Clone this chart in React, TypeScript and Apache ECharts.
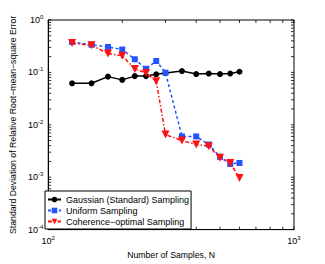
import React, { useEffect, useRef } from "react";
import * as echarts from "echarts";

const samples = [125, 150, 175, 200, 225, 250, 275, 300, 350, 400, 450, 500, 550, 600];
const gaussian = [0.062, 0.062, 0.083, 0.072, 0.085, 0.085, 0.092, 0.097, 0.106, 0.093, 0.095, 0.093, 0.095, 0.103];
const uniform = [0.38, 0.338, 0.306, 0.273, 0.178, 0.117, 0.165, 0.099, 0.006, 0.006, 0.0042, 0.00245, 0.00179, 0.00187];
const coherence = [0.363, 0.328, 0.23, 0.208, 0.116, 0.0975, 0.068, 0.0065, 0.005, 0.0042, 0.0039, 0.00235, 0.00187, 0.00097];
const seriesNames = ["Gaussian (Standard) Sampling", "Uniform Sampling", "Coherence\u2212optimal Sampling"];
const xMin = 100;
const xMax = 1000;
const yMin = 1e-4;
const yMax = 1;
const xTickValues = [100, 200, 300, 400, 500, 600, 700, 800, 900, 1000];
const yDecades = [1e-4, 1e-3, 1e-2, 1e-1];
const yMultiples = [1, 2, 3, 4, 5, 6, 7, 8, 9];

const FONT = "'Liberation Sans', Arial, Helvetica, sans-serif";

function expLabel(v: number) {
  const e = Math.round(Math.log10(v));
  return "{b|10}{s|" + e + "}";
}

export default function App() {
  const ref = useRef<HTMLDivElement>(null);
  useEffect(() => {
    if (!ref.current) return;
    const chart = echarts.init(ref.current, null, { renderer: "svg" });
    const tickData: number[][] = [];
    xTickValues.forEach((x) => tickData.push([x, 0.01, 0]));
    yDecades.forEach((d) => yMultiples.forEach((m) => tickData.push([150, d * m, 1])));
    tickData.push([150, 1, 1]);
    const L = 3;
    const rich = {
      b: { fontSize: 9, fontFamily: FONT, color: "#000" },
      s: { fontSize: 6, fontFamily: FONT, color: "#000", padding: [0, 0, 6, 0] },
    };
    chart.setOption({
      animation: false,
      backgroundColor: "#fff",
      textStyle: { fontFamily: FONT },
      grid: { left: 43, right: 31, top: 20, bottom: 30, show: true, borderColor: "#000", borderWidth: 1, backgroundColor: "#fff" },
      legend: {
        data: seriesNames,
        orient: "vertical",
        left: 45,
        top: 191,
        padding: [4, 2, 3, 2],
        itemGap: 2,
        itemWidth: 13,
        itemHeight: 7,
        borderColor: "#000",
        borderWidth: 1,
        borderRadius: 0,
        backgroundColor: "#fff",
        textStyle: { fontSize: 9, fontFamily: FONT, color: "#000" },
      },
      xAxis: {
        type: "log",
        logBase: 10,
        min: xMin,
        max: xMax,
        name: "Number of Samples, N",
        nameLocation: "middle",
        nameGap: 13,
        nameTextStyle: { fontSize: 8.7, fontFamily: FONT, color: "#000" },
        axisLine: { lineStyle: { color: "#000", width: 1 } },
        axisTick: { show: false },
        splitLine: { show: false },
        axisLabel: { margin: 5, formatter: expLabel, rich, showMinLabel: true, showMaxLabel: true },
      },
      yAxis: {
        type: "log",
        logBase: 10,
        min: yMin,
        max: yMax,
        name: "Standard Deviation of Relative Root\u2212mean\u2212square Error",
        nameLocation: "middle",
        nameGap: 20,
        nameTextStyle: { fontSize: 8.7, fontFamily: FONT, color: "#000" },
        axisLine: { lineStyle: { color: "#000", width: 1 } },
        axisTick: { show: false },
        splitLine: { show: false },
        axisLabel: { margin: 5, formatter: expLabel, rich, showMinLabel: true, showMaxLabel: true },
      },
      series: [
        {
          type: "custom",
          name: "ticks",
          silent: true,
          z: 1,
          data: tickData,
          renderItem: (params: any, api: any) => {
            const kind = api.value(2);
            const style = { stroke: "#000", lineWidth: 0.8 };
            if (kind === 0) {
              const x = api.value(0);
              const b = api.coord([x, yMin]);
              const t = api.coord([x, yMax]);
              return {
                type: "group",
                children: [
                  { type: "line", shape: { x1: b[0], y1: b[1], x2: b[0], y2: b[1] - L }, style },
                  { type: "line", shape: { x1: t[0], y1: t[1], x2: t[0], y2: t[1] + L }, style },
                ],
              };
            }
            const y = api.value(1);
            const l = api.coord([xMin, y]);
            const r = api.coord([xMax, y]);
            return {
              type: "group",
              children: [
                { type: "line", shape: { x1: l[0], y1: l[1], x2: l[0] + L, y2: l[1] }, style },
                { type: "line", shape: { x1: r[0], y1: r[1], x2: r[0] - L, y2: r[1] }, style },
              ],
            };
          },
        },
        {
          name: seriesNames[0],
          type: "line",
          data: samples.map((x, i) => [x, gaussian[i]]),
          symbol: "circle",
          symbolSize: 6,
          color: "#000",
          lineStyle: { color: "#000", width: 1.5, type: "solid" },
          itemStyle: { color: "#000" },
          z: 3,
        },
        {
          name: seriesNames[1],
          type: "line",
          data: samples.map((x, i) => [x, uniform[i]]),
          symbol: "rect",
          symbolSize: 6,
          color: "#2255ff",
          lineStyle: { color: "#2255ff", width: 1.5, type: [3, 2.5] },
          itemStyle: { color: "#2255ff" },
          z: 4,
        },
        {
          name: seriesNames[2],
          type: "line",
          data: samples.map((x, i) => [x, coherence[i]]),
          symbol: "triangle",
          symbolRotate: 180,
          symbolSize: 8,
          color: "#ff1111",
          lineStyle: { color: "#ff1111", width: 1.5, type: [4, 2, 1.5, 2] },
          itemStyle: { color: "#ff1111" },
          z: 5,
        },
      ],
    });
    return () => chart.dispose();
  }, []);
  return <div ref={ref} style={{ width: 325, height: 264, position: "absolute", left: 0, top: 0 }} />;
}
